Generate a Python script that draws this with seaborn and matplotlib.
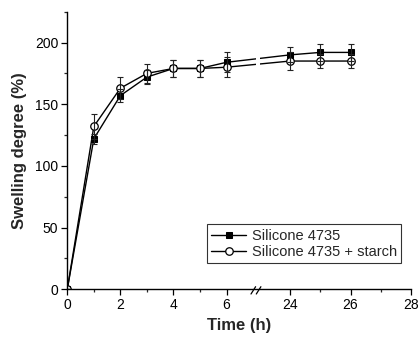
import numpy as np
import pandas as pd
import matplotlib
matplotlib.use('Agg')
import matplotlib.pyplot as plt
from matplotlib.lines import Line2D
from matplotlib.ticker import FixedLocator
import seaborn as sns

# 数据
time_h = [0, 1, 2, 3, 4, 5, 6, 24, 25, 26]
silicone = [0, 122, 157, 172, 179, 179, 184, 190, 192, 192]
silicone_err = [0, 4, 5, 6, 7, 7, 8, 6, 7, 7]
starch = [0, 132, 163, 175, 179, 179, 180, 185, 185, 185]
starch_err = [0, 10, 9, 8, 7, 7, 8, 7, 6, 6]
labels = ['Silicone 4735', 'Silicone 4735 + starch']

x_major = [0, 2, 4, 6, 24, 26, 28]
x_minor = [1, 3, 5, 25, 27]

df = pd.DataFrame({'time': time_h, 'silicone': silicone, 'starch': starch})

sns.set_style('ticks')
plt.rcParams['font.family'] = ['Liberation Sans', 'DejaVu Sans']

W, H = 420, 338
fig = plt.figure(figsize=(W / 100, H / 100), dpi=100)
ax = fig.add_axes([0.1602, 0.1441, 0.8184, 0.8213])

# 断轴: 0-7.1 和 23-28, 中间留一个小缺口
a, b = 7.1, 23.0
s1, s2, g = 26.6, 30.3, 4.0
xs = [-100, a, b, 100]
ps = [-100 * s1, a * s1, a * s1 + g, a * s1 + g + (100 - b) * s2]

def fwd(x):
    return np.interp(x, xs, ps)

def inv(p):
    return np.interp(p, ps, xs)

sns.lineplot(data=df, x='time', y='silicone', ax=ax, color='black', lw=1,
             marker='s', markersize=4.6, markerfacecolor='black',
             markeredgecolor='black', label=labels[0])
sns.lineplot(data=df, x='time', y='starch', ax=ax, color='black', lw=1,
             marker='o', markersize=5.4, markerfacecolor='white',
             markeredgecolor='black', markeredgewidth=0.9, label=labels[1])
ax.errorbar(time_h, silicone, yerr=silicone_err, fmt='none', ecolor='#222222',
            elinewidth=0.8, capsize=2.5, capthick=0.8)
ax.errorbar(time_h, starch, yerr=starch_err, fmt='none', ecolor='#222222',
            elinewidth=0.8, capsize=2.5, capthick=0.8)

ax.set_xscale('function', functions=(fwd, inv))
ax.set_xlim(0, 28)
ax.set_ylim(0, 225)
ax.axvspan(a, b, color='white', zorder=2.4, lw=0)

ax.xaxis.set_major_locator(FixedLocator(x_major))
ax.xaxis.set_minor_locator(FixedLocator(x_minor))
ax.set_yticks([0, 50, 100, 150, 200])
ax.set_yticks([25, 75, 125, 175, 225], minor=True)
ax.tick_params(which='major', direction='out', length=4, width=0.9,
               labelsize=10, pad=2.5, colors='black')
ax.tick_params(which='minor', direction='out', length=2.5, width=0.9)

for side in ['top', 'right']:
    ax.spines[side].set_visible(False)
for side in ['left', 'bottom']:
    ax.spines[side].set_linewidth(1.0)
    ax.spines[side].set_color('black')

ax.set_xlabel('Time (h)', fontsize=12, fontweight='bold', labelpad=4)
ax.set_ylabel('Swelling degree (%)', fontsize=12, fontweight='bold', labelpad=6)

# 断轴的 "//" 记号
for x0 in [251.0, 256.3]:
    fig.add_artist(Line2D([x0 / W, (x0 + 4.6) / W], [1 - 294 / H, 1 - 286.7 / H],
                          color='black', lw=0.9))

leg = ax.legend(loc='lower left', bbox_to_anchor=(206.7 / W, 1 - 263.3 / H),
                bbox_transform=fig.transFigure, borderaxespad=0, fontsize=10.5,
                frameon=True, fancybox=False, edgecolor='black',
                handlelength=2.4, handletextpad=0.4, borderpad=0.3,
                labelspacing=0.15)
leg.get_frame().set_linewidth(0.8)

fig.savefig('out.png', dpi=100)
